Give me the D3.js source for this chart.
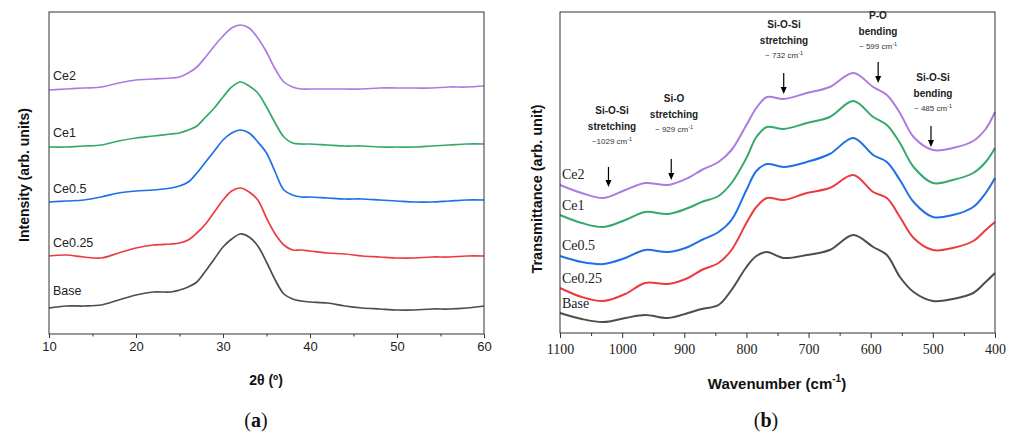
<!DOCTYPE html>
<html>
<head>
<meta charset="utf-8">
<script src="https://cdn.jsdelivr.net/npm/d3@7"></script>
<style>
  body { margin: 0; background: #fff; }
  svg { display: block; }
</style>
</head>
<body>
<svg id="svg"></svg>
<script>
// ---- data (a) XRD ----
const twoTheta = [10,12,14,16,18,20,22,24,25,26,27,28,29,30,31,32,33,34,35,36,37,38,39,40,42,44,46,48,50,52,54,56,58,60];
const xrdBase  = [26,28,28,29,34,39,42,42,44,47,52,63,75,87,95,100,97,88,72,54,40,35,33,32,31,28,26,25,24,24,25,25,26,28];
const xrdCe025 = [78,79,77,76,81,86,89,90,91,94,101,110,122,134,143,146,142,134,116,100,89,84,84,83,81,80,78,77,76,76,77,77,78,78];
const xrdCe05  = [132,133,134,137,141,143,144,146,148,152,161,172,183,194,201,204,201,192,181,162,144,139,137,137,136,135,135,134,133,132,132,133,134,134];
const xrdCe1   = [187,187,188,189,193,196,198,200,201,204,208,217,226,237,247,252,248,241,227,211,197,191,190,190,189,188,188,187,187,187,188,189,190,190];
const xrdCe2   = [244,245,246,247,251,254,255,256,257,261,267,277,288,298,306,309,306,296,282,265,252,247,245,245,245,245,245,246,246,246,246,247,247,248];
const xrdTicks = [10,20,30,40,50,60];

// ---- data (b) FTIR ----
const wavenumber = [1100,1065,1030,995,963,926,894,872,845,824,800,784,767,740,703,666,628,596,574,553,531,500,468,435,415,400];
const irBase  = [20,14,11,15,18,15,20,24,28,43,66,77,81,75,78,83,98,86,78,56,41,32,34,40,51,60];
const irCe025 = [45,36,32,39,50,49,55,63,70,83,110,126,135,133,140,145,158,141,135,116,95,83,85,92,103,111];
const irCe05  = [77,71,69,75,83,81,86,93,101,113,143,162,169,166,171,179,195,178,171,153,131,116,118,126,140,155];
const irCe1   = [118,110,106,113,121,119,125,131,137,150,175,196,206,204,210,216,232,216,208,190,166,150,153,160,171,185];
const irCe2   = [148,140,135,143,150,148,155,163,171,183,208,225,236,234,240,246,260,246,238,220,196,183,185,192,204,221];
const irTicks = [1100,1000,900,800,700,600,500,400];

const seriesNames = ['Base','Ce0.25','Ce0.5','Ce1','Ce2'];
const colors = ['#4d4d4d','#ec3b40','#1f6fe6','#35a86a','#ad7be0'];

// band annotations
const bandTitle = [['Si-O-Si','stretching'],['Si-O','stretching'],['Si-O-Si','stretching'],['P-O','bending'],['Si-O-Si','bending']];
const bandValue = ['~1029','~ 929','~ 732','~ 599','~ 485'];
const bandArrowAt = [1022, 921, 740, 588, 503];

const W = 1014, H = 434;
const svg = d3.select('#svg').attr('width', W).attr('height', H);

// ================= panel (a) =================
const xa = d3.scaleLinear().domain([10, 60]).range([49, 484]);
const ya = d3.scaleLinear().domain([0, 322]).range([334, 12]);
const xrdSeries = [xrdBase, xrdCe025, xrdCe05, xrdCe1, xrdCe2];

const lineA = d3.line()
  .x((d, i) => xa(twoTheta[i]))
  .y(d => ya(d))
  .curve(d3.curveCatmullRom.alpha(0.5));

const ga = svg.append('g');
ga.selectAll('path.xrd')
  .data(xrdSeries)
  .enter()
  .append('path')
  .attr('class', 'xrd')
  .attr('fill', 'none')
  .attr('stroke', (d, i) => colors[i])
  .attr('stroke-width', 1.7)
  .attr('d', d => lineA(d));

// minor ticks
ga.append('g').attr('transform', 'translate(0,334)')
  .call(d3.axisBottom(xa).tickValues([15,25,35,45,55]).tickSize(2.5).tickFormat(''))
  .call(a => a.select('.domain').remove())
  .call(a => a.selectAll('line').attr('stroke', '#333'));
ga.append('g').attr('transform', 'translate(0,334)')
  .call(d3.axisBottom(xa).tickValues(xrdTicks).tickSize(4).tickSizeOuter(0).tickPadding(4))
  .call(a => a.select('.domain').remove())
  .call(a => a.selectAll('line').attr('stroke', '#333'))
  .call(a => a.selectAll('text').attr('font-family', 'Liberation Sans, Arial, sans-serif').attr('font-size', 13).attr('fill', '#222'));

ga.append('rect')
  .attr('x', 49).attr('y', 12).attr('width', 435).attr('height', 322)
  .attr('fill', 'none').attr('stroke', '#333').attr('stroke-width', 1);

const labA = [295, 246.5, 193, 137, 80];
ga.selectAll('text.lab')
  .data(seriesNames)
  .enter()
  .append('text')
  .attr('class', 'lab')
  .attr('x', 53)
  .attr('y', (d, i) => labA[i])
  .attr('font-family', 'Liberation Sans, Arial, sans-serif')
  .attr('font-size', 12.5)
  .attr('fill', '#222')
  .text(d => d);

ga.append('text')
  .attr('transform', 'translate(29,175) rotate(-90)')
  .attr('text-anchor', 'middle')
  .attr('font-family', 'Liberation Sans, Arial, sans-serif')
  .attr('font-weight', 'bold')
  .attr('font-size', 14)
  .attr('fill', '#111')
  .text('Intensity (arb. units)');

ga.append('text')
  .attr('x', 266).attr('y', 385)
  .attr('text-anchor', 'middle')
  .attr('font-family', 'Liberation Sans, Arial, sans-serif')
  .attr('font-weight', 'bold')
  .attr('font-size', 14)
  .attr('fill', '#111')
  .text('2θ (º)');

const capA = ga.append('text')
  .attr('x', 256).attr('y', 427)
  .attr('text-anchor', 'middle')
  .attr('font-family', 'Liberation Serif, Times New Roman, serif')
  .attr('font-size', 20)
  .attr('fill', '#111');
capA.append('tspan').text('(');
capA.append('tspan').attr('font-weight', 'bold').text('a');
capA.append('tspan').text(')');

// ================= panel (b) =================
const xb = d3.scaleLinear().domain([1100, 400]).range([560, 995]);
const yb = d3.scaleLinear().domain([0, 321]).range([333, 12]);
const irSeries = [irBase, irCe025, irCe05, irCe1, irCe2];

const lineB = d3.line()
  .x((d, i) => xb(wavenumber[i]))
  .y(d => yb(d))
  .curve(d3.curveCatmullRom.alpha(0.5));

const gb = svg.append('g');
gb.selectAll('path.ir')
  .data(irSeries)
  .enter()
  .append('path')
  .attr('class', 'ir')
  .attr('fill', 'none')
  .attr('stroke', (d, i) => colors[i])
  .attr('stroke-width', 2)
  .attr('d', d => lineB(d));

gb.append('g').attr('transform', 'translate(0,333)')
  .call(d3.axisBottom(xb).tickValues([1050,950,850,750,650,550,450]).tickSize(3).tickFormat(''))
  .call(a => a.select('.domain').remove())
  .call(a => a.selectAll('line').attr('stroke', '#333'));
gb.append('g').attr('transform', 'translate(0,333)')
  .call(d3.axisBottom(xb).tickValues(irTicks).tickFormat(d3.format('d')).tickSize(5).tickSizeOuter(0).tickPadding(6))
  .call(a => a.select('.domain').remove())
  .call(a => a.selectAll('line').attr('stroke', '#333'))
  .call(a => a.selectAll('text').attr('font-family', 'Liberation Serif, Times New Roman, serif').attr('font-size', 14).attr('fill', '#222'));

gb.append('rect')
  .attr('x', 560).attr('y', 12).attr('width', 435).attr('height', 321)
  .attr('fill', 'none').attr('stroke', '#333').attr('stroke-width', 1);

const labB = [308, 283, 250, 210, 179];
gb.selectAll('text.lab')
  .data(seriesNames)
  .enter()
  .append('text')
  .attr('class', 'lab')
  .attr('x', 562)
  .attr('y', (d, i) => labB[i])
  .attr('font-family', 'Liberation Serif, Times New Roman, serif')
  .attr('font-size', 14)
  .attr('fill', '#222')
  .text(d => d);

// annotations: text rows top y, arrow start/end
const annTop = [114, 102, 28, 19, 81];
const arrowY = [[167, 187], [159, 180], [73, 94], [62, 83], [126, 147]];
const annX = [612, 674, 784, 878, 933];

bandTitle.forEach((t, i) => {
  const g = gb.append('g');
  t.forEach((s, j) => {
    g.append('text')
      .attr('x', annX[i]).attr('y', annTop[i] + j * 15.5)
      .attr('text-anchor', 'middle')
      .attr('font-family', 'Liberation Sans, Arial, sans-serif')
      .attr('font-weight', 'bold')
      .attr('font-size', 10)
      .attr('fill', '#222')
      .text(s);
  });
  const v = g.append('text')
    .attr('x', annX[i]).attr('y', annTop[i] + 30)
    .attr('text-anchor', 'middle')
    .attr('font-family', 'Liberation Sans, Arial, sans-serif')
    .attr('font-size', 8)
    .attr('fill', '#333');
  v.append('tspan').text(bandValue[i] + ' cm');
  v.append('tspan').attr('font-size', 5.5).attr('dy', -3).text('-1');

  const ax = xb(bandArrowAt[i]);
  g.append('line')
    .attr('x1', ax).attr('x2', ax)
    .attr('y1', arrowY[i][0]).attr('y2', arrowY[i][1] - 5)
    .attr('stroke', '#000').attr('stroke-width', 1.2);
  g.append('path')
    .attr('d', `M${ax - 3},${arrowY[i][1] - 7} L${ax + 3},${arrowY[i][1] - 7} L${ax},${arrowY[i][1]} Z`)
    .attr('fill', '#000');
});

gb.append('text')
  .attr('transform', 'translate(542,189) rotate(-90)')
  .attr('text-anchor', 'middle')
  .attr('font-family', 'Liberation Sans, Arial, sans-serif')
  .attr('font-weight', 'bold')
  .attr('font-size', 14.5)
  .attr('fill', '#111')
  .text('Transmittance (arb. unit)');

const xtB = gb.append('text')
  .attr('x', 777).attr('y', 389)
  .attr('text-anchor', 'middle')
  .attr('font-family', 'Liberation Sans, Arial, sans-serif')
  .attr('font-weight', 'bold')
  .attr('font-size', 15)
  .attr('fill', '#111');
xtB.append('tspan').text('Wavenumber (cm');
xtB.append('tspan').attr('font-size', 10).attr('dy', -7).text('-1');
xtB.append('tspan').attr('dy', 7).text(')');

const capB = gb.append('text')
  .attr('x', 766).attr('y', 427)
  .attr('text-anchor', 'middle')
  .attr('font-family', 'Liberation Serif, Times New Roman, serif')
  .attr('font-size', 20)
  .attr('fill', '#111');
capB.append('tspan').text('(');
capB.append('tspan').attr('font-weight', 'bold').text('b');
capB.append('tspan').text(')');
</script>
</body>
</html>
